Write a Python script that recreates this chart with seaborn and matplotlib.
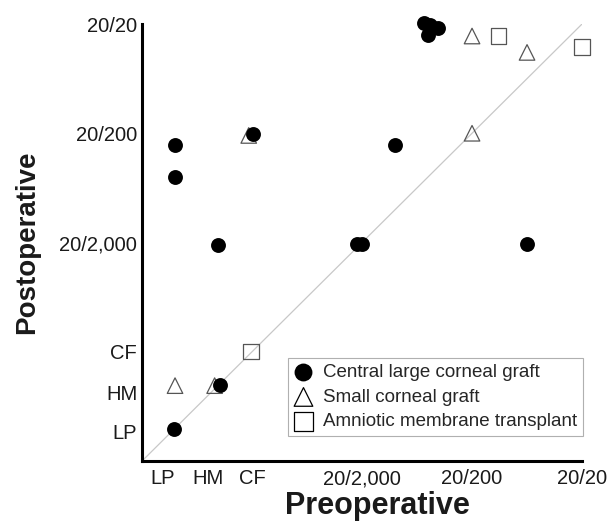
import numpy as np
import pandas as pd
import seaborn as sns
import matplotlib.pyplot as plt

# visual acuity on a "lines" scale: 4 = 20/20, 3 = 20/200, 2 = 20/2,000, 1 = CF
large_pre = [0.30, 0.30, 0.69, 1.01, 2.30, 1.95, 2.00, 2.56, 2.62, 2.60, 2.69, 3.50, 0.29, 0.71]
large_post = [2.89, 2.60, 1.98, 2.99, 2.89, 1.99, 1.99, 4.01, 3.99, 3.90, 3.96, 1.99, 0.29, 0.70]

small_pre = [0.30, 0.66, 0.97, 3.00, 3.00, 3.50]
small_post = [0.69, 0.69, 2.98, 3.00, 3.89, 3.74]

amnio_pre = [0.99, 3.24, 4.00]
amnio_post = [1.00, 3.89, 3.79]

tick_labels = ["CF", "20/2,000", "20/200", "20/20"]
low_labels = ["LP", "HM"]

sns.set_style("white")
plt.rcParams["font.family"] = ["Liberation Sans", "DejaVu Sans"]

fig = plt.figure(figsize=(6.08, 5.23), dpi=100)
ax = fig.add_axes([0.2336, 0.1185, 0.7237, 0.8356])

ax.plot([0, 4], [0, 4], color="#c8c8c8", lw=0.9, zorder=1)

sns.scatterplot(x=large_pre, y=large_post, marker="o", color="black", s=115,
                linewidth=0, label="Central large corneal graft", ax=ax, zorder=3, clip_on=False)
sns.scatterplot(x=small_pre, y=small_post, marker="^", color="white", s=125,
                edgecolor="#555555", linewidth=0.9, label="Small corneal graft", ax=ax, zorder=2,
                clip_on=False)
ax.collections[-1].set_facecolor("none")
sns.scatterplot(x=amnio_pre, y=amnio_post, marker="s", color="white", s=120,
                edgecolor="#555555", linewidth=0.9, label="Amniotic membrane transplant", ax=ax,
                zorder=2, clip_on=False)
ax.collections[-1].set_facecolor("none")

ax.set_xlim(0, 4)
ax.set_ylim(0, 4)

ax.set_xticks([1, 2, 3, 4])
ax.set_xticklabels(tick_labels)
ax.set_xticks([0.19, 0.60], minor=True)
ax.set_xticklabels(low_labels, minor=True)
ax.set_yticks([1, 2, 3, 4])
ax.set_yticklabels(tick_labels)
ax.set_yticks([0.27, 0.63], minor=True)
ax.set_yticklabels(low_labels, minor=True)

ax.tick_params(axis="both", which="both", labelsize=14.5, colors="black", labelcolor="#1a1a1a")
ax.tick_params(axis="x", which="major", direction="in", length=3, width=1.5, pad=6)
ax.tick_params(axis="y", which="major", direction="out", length=1.5, width=1.5, pad=2)
ax.tick_params(axis="x", which="minor", length=0, pad=6)
ax.tick_params(axis="y", which="minor", length=0, pad=3.5)

for side in ["top", "right"]:
    ax.spines[side].set_visible(False)
for side in ["left", "bottom"]:
    ax.spines[side].set_color("black")
    ax.spines[side].set_linewidth(2.2)

ax.set_xlabel("Preoperative", fontsize=22, fontweight="bold", color="#1a1a1a")
ax.set_ylabel("Postoperative", fontsize=20, fontweight="bold", color="#1a1a1a")
ax.xaxis.set_label_coords(0.535, -0.068)
ax.yaxis.set_label_coords(-0.232, 0.5)

leg = ax.legend(loc="lower right", bbox_to_anchor=(1.002, 0.057), fontsize=13.5, frameon=True,
                fancybox=False, edgecolor="#b0b0b0", framealpha=1, handletextpad=0.5,
                borderpad=0.3, labelspacing=0.4, handlelength=1.1, borderaxespad=0,
                markerscale=1.2)
leg.get_frame().set_linewidth(0.8)
for h in leg.legend_handles[1:]:
    h.set_edgecolor("black")

fig.savefig("out.png", dpi=100)
